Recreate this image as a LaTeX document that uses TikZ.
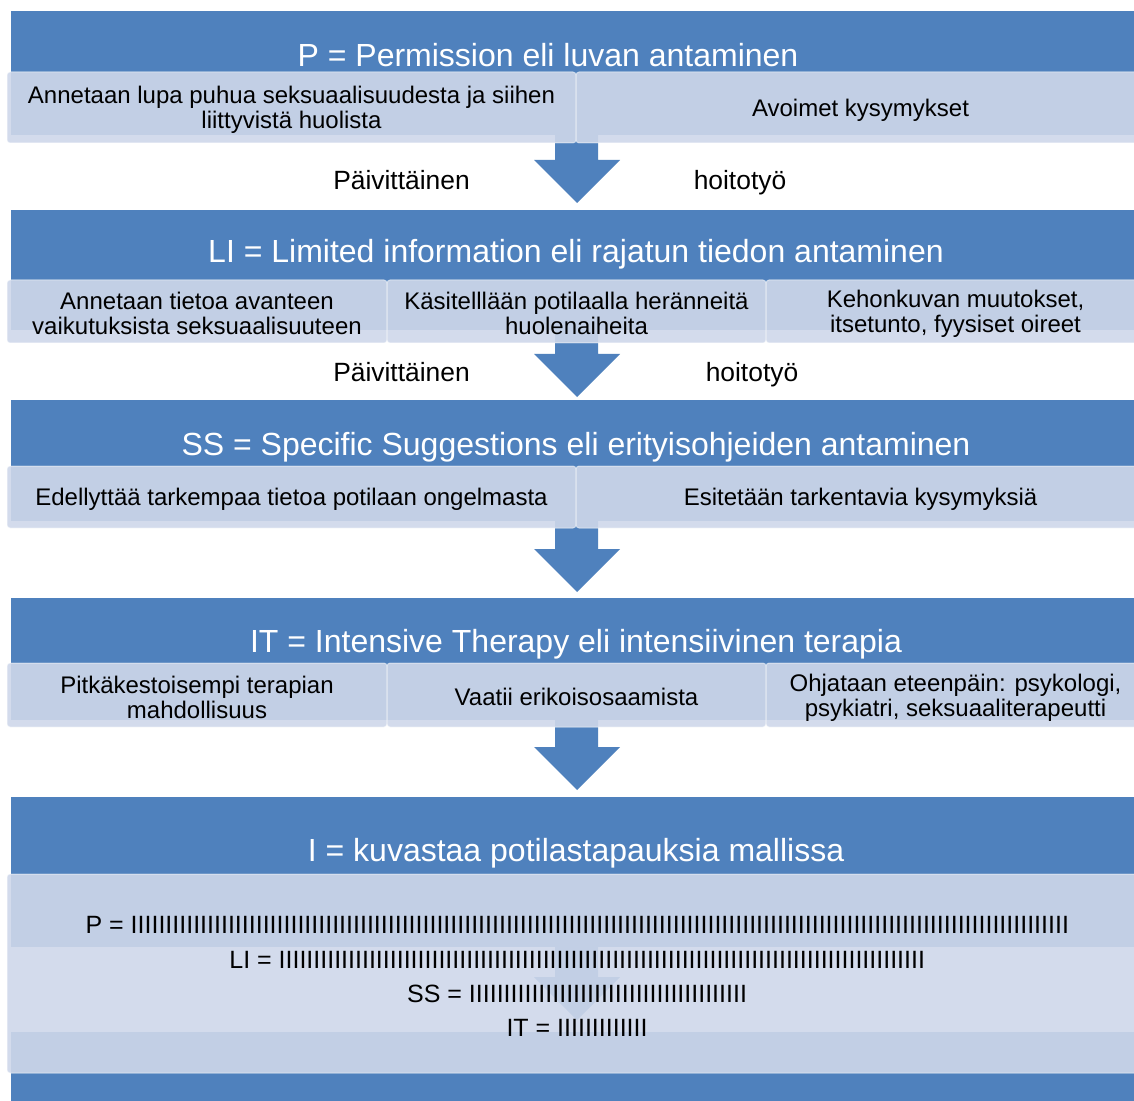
\documentclass[tikz,border=0pt]{standalone}
\usepackage{fontspec}
\setmainfont{Liberation Sans}
\definecolor{barblue}{RGB}{79,129,189}
\definecolor{boxfill}{RGB}{207,216,234}
\newcommand\Irep[1]{\foreach \k in {1,...,#1}{I}}
\newcommand\lbox[6]{%
  \path[boxshape] (#2,#3) rectangle (#4,#5);
  \node[boxtext] (#1) at ({(#2+#4)/2},{(#3+#5)/2}) {#6};}
\newcommand\barrow[3]{% name, shaft top, apex
  \fill[barblue] (555,#2) -- (598,#2) -- (598,#3-43) -- (620,#3-43) -- (577,#3) -- (534,#3-43) -- (555,#3-43) -- cycle;
  \coordinate (#1) at (577,#3);}
\begin{document}
\begin{tikzpicture}[x=0.5pt,y=-0.5pt,
  bar/.style={fill=barblue},
  boxshape/.style={fill=boxfill, fill opacity=0.9, draw=white, draw opacity=0.5, line width=0.5pt, rounded corners=1.5pt},
  boxtext/.style={inner sep=0pt, align=center, yshift=-1.2pt, font=\fontsize{12}{12.5}\selectfont},
  title/.style={text=white, font=\fontsize{16}{19}\selectfont, inner sep=0pt, anchor=base},
  lbl/.style={font=\fontsize{13.2}{15}\selectfont, inner sep=0pt, anchor=base},
  cnt/.style={font=\fontsize{12.5}{15}\selectfont, inner sep=0pt, anchor=base},
  ]
\useasboundingbox (0,0) rectangle (1134,1101);
\fill[white] (0,0) rectangle (1134,1101);
% bars
\fill[bar] (11,11) rectangle (1141,135);
\fill[bar] (11,210) rectangle (1141,330);
\fill[bar] (11,400) rectangle (1141,521);
\fill[bar] (11,598) rectangle (1141,720);
\fill[bar] (11,797) rectangle (1141,947);
\fill[bar] (11,1032) rectangle (1141,1110);
% block arrows
\barrow{a1}{130}{203}
\barrow{a2}{325}{397}
\barrow{a3}{515}{592}
\barrow{a4}{715}{790}
\barrow{a5}{940}{1020}
% titles
\node[title] (t1) at (548,67) {P = Permission eli luvan antaminen};
\node[title] (t2) at (576,263) {LI = Limited information eli rajatun tiedon antaminen};
\node[title] (t3) at (576,455) {SS = Specific Suggestions eli erityisohjeiden antaminen};
\node[title] (t4) at (576,652) {IT = Intensive Therapy eli intensiivinen terapia};
\node[title] (t5) at (576,861) {I = kuvastaa potilastapauksia mallissa};
% boxes
\lbox{b1a}{7}{72}{576}{143}{Annetaan lupa puhua seksuaalisuudesta ja siihen\\liittyvistä huolista}
\lbox{b1b}{576}{72}{1145}{143}{Avoimet kysymykset}
\lbox{b2a}{7}{280}{387}{343}{Annetaan tietoa avanteen\\vaikutuksista seksuaalisuuteen}
\lbox{b2b}{387}{280}{766}{343}{Käsitelllään potilaalla heränneitä\\huolenaiheita}
\lbox{b2c}{766}{280}{1145}{343}{Kehonkuvan muutokset,\\itsetunto, fyysiset oireet}
\lbox{b3a}{7}{466}{576}{528}{Edellyttää tarkempaa tietoa potilaan ongelmasta}
\lbox{b3b}{576}{466}{1145}{528}{Esitetään tarkentavia kysymyksiä}
\lbox{b4a}{7}{663}{387}{727}{Pitkäkestoisempi terapian\\mahdollisuus}
\lbox{b4b}{387}{663}{766}{727}{Vaatii erikoisosaamista}
\lbox{b4c}{766}{663}{1145}{727}{Ohjataan eteenpäin: psykologi,\\psykiatri, seksuaaliterapeutti}
\lbox{b5}{7}{874}{1145}{1073}{}
% labels beside arrows
\node[lbl] (p1) at (401.5,190) {Päivittäinen};
\node[lbl] (h1) at (740,190) {hoitotyö};
\node[lbl] (p2) at (401.5,381) {Päivittäinen};
\node[lbl] (h2) at (752,381) {hoitotyö};
% counts
\node[cnt] (cP) at (577,933) {P = \Irep{135}};
\node[cnt] (cLI) at (577,968) {LI = \Irep{93}};
\node[cnt] (cSS) at (577,1002) {SS = \Irep{40}};
\node[cnt] (cIT) at (577,1036) {IT = \Irep{13}};
\end{tikzpicture}
\end{document}
